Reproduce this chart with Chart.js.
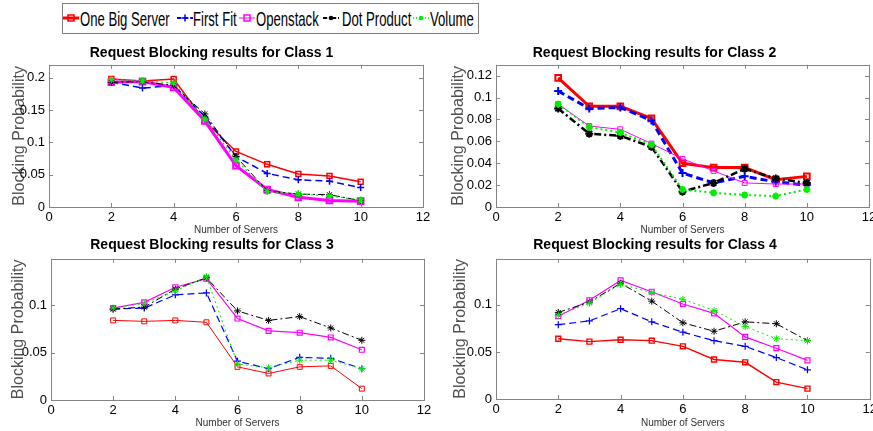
<!DOCTYPE html>
<html>
<head>
<meta charset="utf-8">
<script src="https://cdn.jsdelivr.net/npm/chart.js@4"></script>
<style>
  html, body { margin: 0; padding: 0; background: #fff; overflow: hidden; }
  body { width: 873px; height: 431px; position: relative; font-family: "Liberation Sans", Arial, sans-serif; }
  canvas { position: absolute; }
  #legend { position: absolute; left: 62px; top: 3px; width: 415px; height: 29px; border: 1px solid #808080; background: #fff; }
  #legend svg { position: absolute; top: 7px; }
  #legend span { position: absolute; top: 3px; font-size: 21px; line-height: 24px; white-space: nowrap; transform: scaleX(0.625); transform-origin: 0 50%; color: #000; }
</style>
</head>
<body>
<div id="legend"></div>
<canvas id="c1" width="440" height="196" style="left:0;top:40px"></canvas>
<canvas id="c2" width="440" height="196" style="left:440px;top:40px"></canvas>
<canvas id="c3" width="440" height="195" style="left:0;top:236px"></canvas>
<canvas id="c4" width="440" height="195" style="left:440px;top:236px"></canvas>
<script>
const servers = [2, 3, 4, 5, 6, 7, 8, 9, 10];
const seriesNames = ['One Big Server', 'First Fit', 'Openstack', 'Dot Product', 'Volume'];
const xTicks = [0, 2, 4, 6, 8, 10, 12];
const yTicks1 = [0, 0.05, 0.1, 0.15, 0.2];
const yTicks2 = [0, 0.02, 0.04, 0.06, 0.08, 0.1, 0.12];
const yTicks34 = [0, 0.05, 0.1];

// Class 1
const oneBig1     = [0.198, 0.195, 0.198, 0.133, 0.086, 0.066, 0.051, 0.048, 0.039];
const firstFit1   = [0.193, 0.184, 0.188, 0.140, 0.078, 0.052, 0.042, 0.040, 0.030];
const openstack1  = [0.193, 0.194, 0.185, 0.133, 0.064, 0.027, 0.015, 0.010, 0.009];
const dotProduct1 = [0.193, 0.194, 0.188, 0.144, 0.078, 0.025, 0.020, 0.019, 0.010];
const volume1     = [0.197, 0.195, 0.192, 0.136, 0.073, 0.024, 0.020, 0.017, 0.011];

// Class 2
const oneBig2     = [0.118, 0.092, 0.092, 0.081, 0.040, 0.036, 0.036, 0.025, 0.028];
const firstFit2   = [0.106, 0.090, 0.091, 0.079, 0.031, 0.022, 0.028, 0.023, 0.020];
const openstack2  = [0.094, 0.074, 0.071, 0.058, 0.044, 0.033, 0.022, 0.021, 0.021];
const dotProduct2 = [0.090, 0.067, 0.065, 0.055, 0.014, 0.022, 0.035, 0.026, 0.022];
const volume2     = [0.094, 0.073, 0.068, 0.057, 0.016, 0.013, 0.011, 0.010, 0.016];

// Class 3
const oneBig3     = [0.084, 0.083, 0.084, 0.082, 0.035, 0.028, 0.035, 0.036, 0.012];
const firstFit3   = [0.096, 0.097, 0.111, 0.113, 0.041, 0.033, 0.045, 0.044, 0.033];
const openstack3  = [0.097, 0.103, 0.119, 0.128, 0.086, 0.073, 0.071, 0.066, 0.053];
const dotProduct3 = [0.096, 0.098, 0.117, 0.129, 0.094, 0.084, 0.088, 0.076, 0.063];
const volume3     = [0.097, 0.102, 0.115, 0.130, 0.038, 0.034, 0.042, 0.042, 0.033];

// Class 4
const oneBig4     = [0.064, 0.061, 0.063, 0.062, 0.056, 0.042, 0.039, 0.018, 0.011];
const firstFit4   = [0.079, 0.083, 0.096, 0.082, 0.071, 0.062, 0.056, 0.044, 0.031];
const openstack4  = [0.088, 0.105, 0.126, 0.114, 0.101, 0.091, 0.066, 0.054, 0.041];
const dotProduct4 = [0.092, 0.103, 0.123, 0.104, 0.081, 0.072, 0.082, 0.080, 0.062];
const volume4     = [0.089, 0.102, 0.122, 0.113, 0.106, 0.094, 0.077, 0.064, 0.062];

const FONT = '"Liberation Sans", Arial, sans-serif';

// look of each series (matlab style)
const styles = [
    { color: '#ff0000', dash: [],           point: 'rect'  },
    { color: '#0000ff', dash: [7, 4],       point: 'cross' },
    { color: '#ff00ff', dash: [],           point: 'rect'  },
    { color: '#000000', dash: [7, 3, 2, 3], point: 'star'  },
    { color: '#00ee00', dash: [2, 3],       point: 'star'  }
];

// box + inward ticks like matlab axes
const frameTicks = {
    id: 'frameTicks',
    afterDraw(chart) {
        const { ctx, chartArea: a, scales: { x, y } } = chart;
        ctx.save();
        ctx.strokeStyle = '#858585';
        ctx.lineWidth = 1;
        ctx.setLineDash([]);
        ctx.strokeRect(Math.round(a.left) + 0.5, Math.round(a.top) + 0.5,
                       Math.round(a.right - a.left), Math.round(a.bottom - a.top));
        ctx.beginPath();
        x.ticks.forEach(t => {
            const px = Math.round(x.getPixelForValue(t.value)) + 0.5;
            ctx.moveTo(px, a.bottom); ctx.lineTo(px, a.bottom - 4);
            ctx.moveTo(px, a.top); ctx.lineTo(px, a.top + 4);
        });
        y.ticks.forEach(t => {
            const py = Math.round(y.getPixelForValue(t.value)) + 0.5;
            ctx.moveTo(a.left, py); ctx.lineTo(a.left + 4, py);
            ctx.moveTo(a.right, py); ctx.lineTo(a.right - 4, py);
        });
        ctx.stroke();
        ctx.restore();
    }
};

function makeChart(id, title, sets, widths, yMax, yTicks, lay) {
    const datasets = sets.map((vals, i) => ({
        label: seriesNames[i],
        data: servers.map((s, j) => ({ x: s, y: vals[j] })),
        borderColor: styles[i].color,
        borderWidth: widths[i],
        borderDash: styles[i].dash,
        pointStyle: styles[i].point,
        pointRadius: widths[i] >= 2.5 ? 4 : 3.5,
        pointBorderWidth: Math.min(widths[i], 2),
        pointBorderColor: styles[i].color,
        pointBackgroundColor: i === 3 ? '#000' : 'rgba(0,0,0,0)',
        fill: false,
        tension: 0,
        order: 4 - i
    }));

    new Chart(document.getElementById(id), {
        type: 'line',
        data: { datasets },
        options: {
            responsive: false,
            animation: false,
            layout: { padding: { left: 0, right: lay.padRight, top: 0, bottom: 0 } },
            plugins: {
                legend: { display: false },
                tooltip: { enabled: false },
                title: {
                    display: true,
                    text: title,
                    color: '#000',
                    font: { family: FONT, size: 14, weight: 'bold' },
                    padding: { top: lay.titleTop, bottom: lay.titleBottom }
                }
            },
            scales: {
                x: {
                    type: 'linear',
                    min: 0, max: 12,
                    afterBuildTicks: s => { s.ticks = xTicks.map(v => ({ value: v })); },
                    afterFit: s => { s.height = lay.xHeight; },
                    grid: { display: false, drawTicks: false },
                    border: { display: false },
                    ticks: { color: '#000', padding: 3, font: { family: FONT, size: 13 } },
                    title: {
                        display: true, text: 'Number of Servers', color: '#333',
                        font: { family: FONT, size: 10 }, padding: { top: 0, bottom: lay.xTitlePad }
                    }
                },
                y: {
                    type: 'linear',
                    min: 0, max: yMax,
                    afterBuildTicks: s => { s.ticks = yTicks.map(v => ({ value: v })); },
                    afterFit: s => { s.width = lay.yWidth; },
                    grid: { display: false, drawTicks: false },
                    border: { display: false },
                    ticks: {
                        color: '#000',
                        padding: 4,
                        font: { family: FONT, size: 13 },
                        callback: v => String(Number(v.toFixed(4)))
                    },
                    title: {
                        display: true, text: 'Blocking Probability', color: '#505050',
                        font: { family: FONT, size: 16 }, padding: { top: lay.yTitlePad, bottom: 0 }
                    }
                }
            }
        },
        plugins: [frameTicks]
    });
}

makeChart('c1', 'Request Blocking results for Class 1',
    [oneBig1, firstFit1, openstack1, dotProduct1, volume1], [1.5, 1.5, 3, 1, 1.2], 0.22, yTicks1,
    { padRight: 17, titleTop: 5, titleBottom: 3, xHeight: 29, xTitlePad: 0, yWidth: 49, yTitlePad: 10 });

makeChart('c2', 'Request Blocking results for Class 2',
    [oneBig2, firstFit2, openstack2, dotProduct2, volume2], [3, 3, 1, 2.5, 2], 0.13, yTicks2,
    { padRight: 11, titleTop: 5, titleBottom: 3, xHeight: 29, xTitlePad: 0, yWidth: 56, yTitlePad: 9 });

makeChart('c3', 'Request Blocking results for Class 3',
    [oneBig3, firstFit3, openstack3, dotProduct3, volume3], [1, 1.2, 1.2, 1, 1], 0.149, yTicks34,
    { padRight: 16, titleTop: 1, titleBottom: 5, xHeight: 31, xTitlePad: 2, yWidth: 51, yTitlePad: 9 });

makeChart('c4', 'Request Blocking results for Class 4',
    [oneBig4, firstFit4, openstack4, dotProduct4, volume4], [1.4, 1.2, 1.2, 1, 1], 0.149, yTicks34,
    { padRight: 10, titleTop: 1, titleBottom: 5, xHeight: 32, xTitlePad: 2, yWidth: 56, yTitlePad: 11 });

// legend (html, real text)
const legendSpots = [
    { sample: 0,   text: 17,  w: 3 },
    { sample: 114, text: 130, w: 2 },
    { sample: 176, text: 193, w: 1 },
    { sample: 260, text: 279, w: 2 },
    { sample: 350, text: 367, w: 1.5 }
];
const legend = document.getElementById('legend');
legendSpots.forEach((p, i) => {
    const st = styles[i];
    const dash = st.dash.length ? `stroke-dasharray="${st.dash.map(d => d * 0.6).join(' ')}"` : '';
    let marker = '';
    if (st.point === 'rect') {
        marker = `<rect x="5" y="4" width="6" height="6" fill="none" stroke="${st.color}" stroke-width="1.5"/>`;
    } else if (st.point === 'cross') {
        marker = `<path d="M8 3.5V10.5M4.5 7H11.5" stroke="${st.color}" stroke-width="1.5"/>`;
    } else {
        marker = `<circle cx="8" cy="7" r="2.3" fill="${st.color}"/>`;
    }
    const svg = `<svg width="16" height="14" style="left:${p.sample}px">` +
        `<line x1="0" y1="7" x2="16" y2="7" stroke="${st.color}" stroke-width="${p.w}" ${dash}/>${marker}</svg>`;
    legend.insertAdjacentHTML('beforeend', svg);
    const span = document.createElement('span');
    span.textContent = seriesNames[i];
    span.style.left = p.text + 'px';
    legend.appendChild(span);
});
</script>
</body>
</html>
